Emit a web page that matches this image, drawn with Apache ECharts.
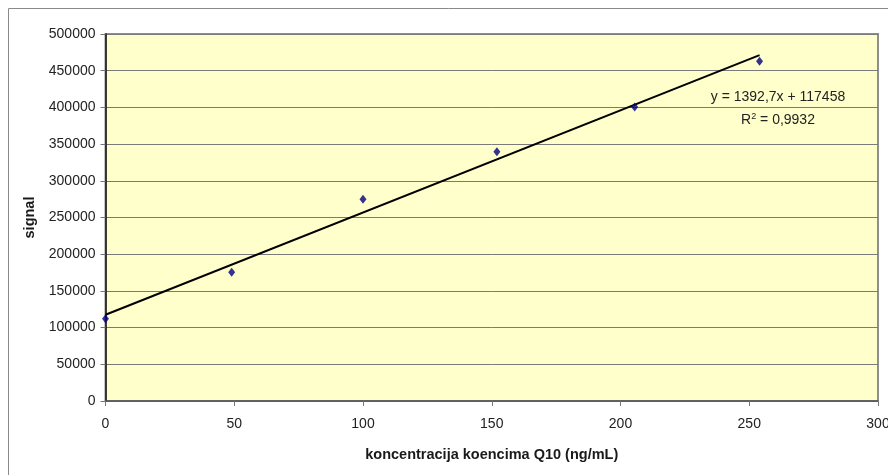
<!DOCTYPE html>
<html><head><meta charset="utf-8">
<script src="https://cdn.jsdelivr.net/npm/echarts@6/dist/echarts.min.js"></script>
<style>html,body{margin:0;padding:0;background:#fff}#c{width:888px;height:475px}</style>
</head><body><div id="c"></div>
<script>
const concentrations = [0, 49, 100, 152, 205.5, 254];
const signals = [112000, 175500, 275000, 339500, 400500, 463000];
const slope = 1392.7;
const intercept = 117458;
const xTicks = [0, 50, 100, 150, 200, 250, 300];
const yTicks = [0, 50000, 100000, 150000, 200000, 250000, 300000, 350000, 400000, 450000, 500000];
const equationText = 'y = 1392,7x + 117458';
const r2Text = '0,9932';

const points = concentrations.map((x, i) => [x, signals[i]]);
const xMaxData = Math.max(...concentrations);
const trend = [[0, intercept], [xMaxData, intercept + slope * xMaxData]];

const chart = echarts.init(document.getElementById('c'), null, {renderer: 'canvas'});
const font = 'Liberation Sans, Arial, sans-serif';
chart.setOption({
  animation: false,
  backgroundColor: '#fff',
  grid: {left: 105.5, top: 34, right: 10, bottom: 74, containLabel: false, outerBoundsMode: 'none', show: true, backgroundColor: '#FFFFCC', borderColor: '#8f8f8f', borderWidth: 2},
  xAxis: {
    type: 'value', min: xTicks[0], max: xTicks[xTicks.length - 1], interval: 50,
    name: 'koncentracija koencima Q10 (ng/mL)', nameLocation: 'middle', nameGap: 46,
    nameTextStyle: {fontFamily: font, fontSize: 14.5, fontWeight: 'bold', color: '#1a1a1a'},
    axisLine: {show: true, onZero: false, lineStyle: {color: '#555', width: 1.5}},
    axisTick: {show: true, inside: false, length: 5, lineStyle: {color: '#777'}},
    axisLabel: {fontFamily: font, fontSize: 14, color: '#222', margin: 16, hideOverlap: false},
    splitLine: {show: false}
  },
  yAxis: {
    type: 'value', min: yTicks[0], max: yTicks[yTicks.length - 1], interval: 50000,
    name: 'signal', nameLocation: 'middle', nameGap: 65, nameRotate: 90,
    nameTextStyle: {fontFamily: font, fontSize: 14.5, fontWeight: 'bold', color: '#1a1a1a'},
    axisLine: {show: true, onZero: false, lineStyle: {color: '#111', width: 1.5}},
    axisTick: {show: true, inside: false, length: 5, lineStyle: {color: '#777'}},
    axisLabel: {fontFamily: font, fontSize: 14, color: '#222', margin: 10, formatter: v => String(v)},
    splitLine: {show: true, lineStyle: {color: '#7a7a7a', width: 1}}
  },
  series: [
    {type: 'line', data: trend, symbol: 'none', lineStyle: {color: '#000', width: 2}, z: 3, silent: true},
    {type: 'scatter', data: points, symbol: 'diamond', symbolSize: [7, 9], itemStyle: {color: '#000080'}, z: 4}
  ],
  graphic: [
    {type: 'rect', shape: {x: 8.5, y: 8.5, width: 900, height: 500}, style: {fill: 'none', stroke: '#8a8a8a', lineWidth: 1}, silent: true, z: -1},
    {type: 'text', x: 778, y: 97.5, style: {text: equationText, font: '14px ' + font, fill: '#222', align: 'center', verticalAlign: 'middle'}, z: 10},
    {type: 'text', x: 778, y: 120, style: {align: 'center', verticalAlign: 'middle', rich: {n: {fontSize: 14, fontFamily: font, fill: '#222'}, s: {fontSize: 9, fontFamily: font, fill: '#222', verticalAlign: 'top', padding: [0, 0, 7, 0]}}, text: '{n|R}{s|2}{n| = ' + r2Text + '}'}, z: 10}
  ]
});
</script></body></html>
